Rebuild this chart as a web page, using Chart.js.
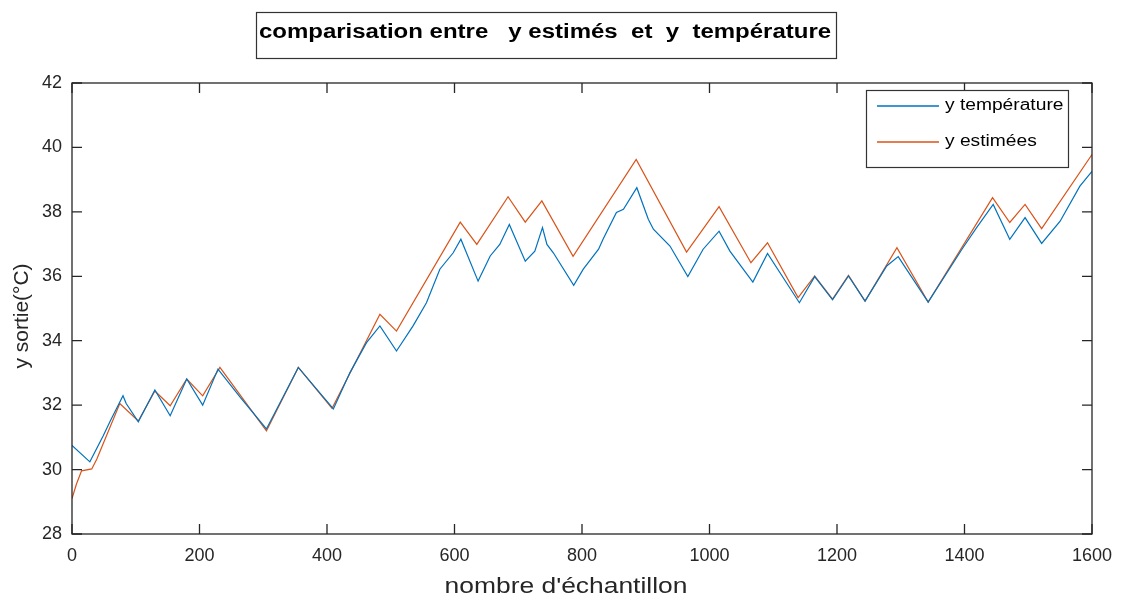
<!DOCTYPE html>
<html>
<head>
<meta charset="utf-8">
<script src="https://cdn.jsdelivr.net/npm/chart.js@4.4.1/dist/chart.umd.min.js"></script>
<style>
  body { margin: 0; background: #ffffff; }
  #chart { display: block; }
</style>
</head>
<body>
<canvas id="chart" width="1124" height="601"></canvas>
<script>
const chartTitle = 'comparisation entre   y estimés  et  y  température';
const xLabel = "nombre d'échantillon";
const yLabel = 'y sortie(°C)';

const xTicks = [0, 200, 400, 600, 800, 1000, 1200, 1400, 1600];
const yTicks = [28, 30, 32, 34, 36, 38, 40, 42];

// y température
const tempX = [0, 28, 49, 60, 80, 85, 104, 130, 154, 180, 205, 229, 264, 305, 355, 410, 436, 462, 483, 509,
    535, 556, 577, 598, 610, 637, 656, 671, 686, 711, 726, 738, 745, 755, 787, 802, 826, 833, 854, 865,
    886, 904, 912, 938, 966, 990, 1015, 1032, 1068, 1091, 1141, 1165, 1193, 1218, 1244, 1278, 1296, 1343,
    1396, 1419, 1445, 1471, 1495, 1521, 1550, 1581, 1600];
const tempY = [30.75, 30.24, 31.05, 31.51, 32.29, 32.05, 31.48, 32.47, 31.67, 32.81, 32.0, 33.12, 32.24, 31.26, 33.17, 31.88, 33.01, 33.94, 34.46, 33.68,
    34.46, 35.18, 36.22, 36.73, 37.15, 35.85, 36.63, 36.99, 37.61, 36.47, 36.78, 37.51, 36.99, 36.73, 35.72, 36.22, 36.84, 37.15, 37.98, 38.08,
    38.75, 37.77, 37.46, 36.94, 35.99, 36.84, 37.40, 36.78, 35.82, 36.71, 35.18, 35.99, 35.27, 36.01, 35.23, 36.32, 36.61, 35.20,
    36.84, 37.51, 38.23, 37.15, 37.82, 37.02, 37.71, 38.80, 39.26];

// y estimées
const estX = [0, 7, 15, 31, 39, 75, 104, 130, 154, 180, 205, 232, 305, 355, 408, 483, 509, 609, 635, 684,
    711, 737, 786, 885, 964, 1015, 1065, 1091, 1139, 1165, 1193, 1218, 1244, 1294, 1343, 1444, 1471, 1495, 1521, 1600];
const estY = [29.1, 29.55, 29.96, 30.02, 30.33, 32.05, 31.51, 32.44, 31.98, 32.81, 32.29, 33.17, 31.2, 33.17, 31.9, 34.82, 34.30, 37.68, 36.99, 38.47,
    37.68, 38.34, 36.62, 39.63, 36.75, 38.16, 36.42, 37.04, 35.34, 36.01, 35.29, 36.03, 35.23, 36.89, 35.20, 38.44, 37.67, 38.23, 37.48, 39.78];

const seriesLabels = ['y température', 'y estimées'];
const seriesColors = ['#0072BD', '#D95319'];

const toPoints = (xs, ys) => xs.map((x, i) => ({ x: x, y: ys[i] }));

const FONT = '"Liberation Sans", Arial, Helvetica, sans-serif';
const AXIS_COLOR = '#262626';
const STRETCH = 1.2; // the picture is a bit wider than tall

// text a little stretched sideways, like the reference
const wideText = (ctx, text, x, y, align) => {
    ctx.save();
    ctx.translate(x, y);
    ctx.scale(STRETCH, 1);
    ctx.textAlign = align;
    ctx.fillText(text, 0, 0);
    ctx.restore();
};

// box round the axes, inward ticks, title box, axis titles and legend, MATLAB style
const matlabDecor = {
    id: 'matlabDecor',
    afterDraw(chart) {
        const ctx = chart.ctx;
        const a = chart.chartArea;
        const xs = chart.scales.x;
        const ys = chart.scales.y;
        ctx.save();
        ctx.strokeStyle = AXIS_COLOR;
        ctx.lineWidth = 1.3;
        ctx.strokeRect(a.left, a.top, a.right - a.left, a.bottom - a.top);

        ctx.beginPath();
        const tl = 10;
        xTicks.forEach(v => {
            const px = xs.getPixelForValue(v);
            ctx.moveTo(px, a.bottom); ctx.lineTo(px, a.bottom - tl);
            ctx.moveTo(px, a.top); ctx.lineTo(px, a.top + tl);
        });
        yTicks.forEach(v => {
            const py = ys.getPixelForValue(v);
            ctx.moveTo(a.left, py); ctx.lineTo(a.left + tl, py);
            ctx.moveTo(a.right, py); ctx.lineTo(a.right - tl, py);
        });
        ctx.stroke();

        // axis titles
        ctx.fillStyle = AXIS_COLOR;
        ctx.textBaseline = 'middle';
        ctx.font = '22px ' + FONT;
        wideText(ctx, xLabel, 566, 587, 'center');
        ctx.font = '21px ' + FONT;
        ctx.save();
        ctx.translate(22, 316);
        ctx.rotate(-Math.PI / 2);
        ctx.textAlign = 'center';
        ctx.fillText(yLabel, 0, 0);
        ctx.restore();

        // title box
        ctx.font = 'bold 20px ' + FONT;
        ctx.fillStyle = '#000';
        wideText(ctx, chartTitle, 545, 32, 'center');
        ctx.lineWidth = 1.2;
        ctx.strokeStyle = '#333';
        ctx.strokeRect(256.5, 12.5, 580, 46);

        // legend
        const lx = 866.5, ly = 90.5, lw = 202, lh = 77;
        ctx.fillStyle = '#fff';
        ctx.fillRect(lx, ly, lw, lh);
        ctx.strokeStyle = '#333';
        ctx.lineWidth = 1.2;
        ctx.strokeRect(lx, ly, lw, lh);
        ctx.font = '16px ' + FONT;
        chart.data.datasets.forEach((ds, i) => {
            const yy = 106 + i * 36;
            ctx.strokeStyle = ds.borderColor;
            ctx.lineWidth = 1.3;
            ctx.beginPath();
            ctx.moveTo(877, yy); ctx.lineTo(939, yy);
            ctx.stroke();
            ctx.fillStyle = '#000';
            wideText(ctx, ds.label, 945, yy, 'left');
        });
        ctx.restore();
    }
};

new Chart(document.getElementById('chart'), {
    type: 'line',
    data: {
        datasets: [
            { label: seriesLabels[0], data: toPoints(tempX, tempY), borderColor: seriesColors[0], borderWidth: 1.2, pointRadius: 0, tension: 0, fill: false },
            { label: seriesLabels[1], data: toPoints(estX, estY), borderColor: seriesColors[1], borderWidth: 1.2, pointRadius: 0, tension: 0, fill: false }
        ]
    },
    options: {
        responsive: false,
        animation: false,
        layout: { padding: { top: 83, right: 32, left: 0, bottom: 0 } },
        plugins: {
            legend: { display: false },
            title: { display: false },
            tooltip: { enabled: false }
        },
        scales: {
            x: {
                type: 'linear',
                min: 0,
                max: 1600,
                afterBuildTicks: (s) => { s.ticks = xTicks.map(v => ({ value: v })); },
                afterFit: (s) => { s.height = 67; },
                grid: { display: false, drawTicks: false },
                border: { display: false },
                ticks: { color: AXIS_COLOR, font: { family: FONT, size: 18 }, padding: 11, maxRotation: 0, callback: (v) => String(v) }
            },
            y: {
                type: 'linear',
                min: 28,
                max: 42,
                afterBuildTicks: (s) => { s.ticks = yTicks.map(v => ({ value: v })); },
                afterFit: (s) => { s.width = 72; },
                grid: { display: false, drawTicks: false },
                border: { display: false },
                ticks: { color: AXIS_COLOR, font: { family: FONT, size: 18 }, padding: 10, callback: (v) => String(v) }
            }
        }
    },
    plugins: [matlabDecor]
});
</script>
</body>
</html>
